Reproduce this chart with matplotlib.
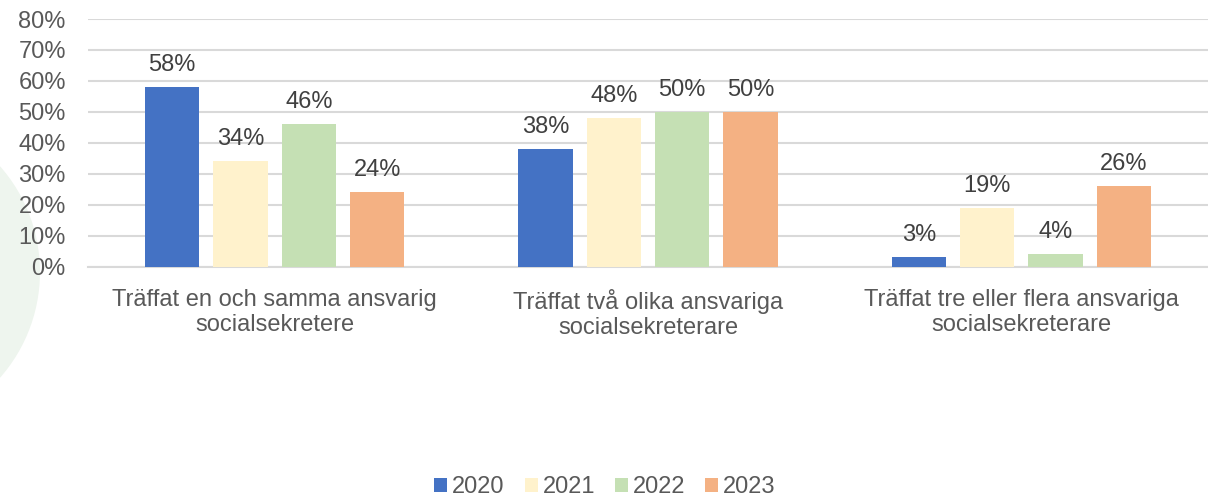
import matplotlib.pyplot as plt
import matplotlib.patches as mpatches
import numpy as np

plt.rcParams['font.family'] = ['Liberation Sans', 'DejaVu Sans']

categories = ["Träffat en och samma ansvarig\nsocialsekretere",
              "Träffat två olika ansvariga\nsocialsekreterare",
              "Träffat tre eller flera ansvariga\nsocialsekreterare"]
years = ["2020", "2021", "2022", "2023"]
v2020 = [58, 38, 3]
v2021 = [34, 48, 19]
v2022 = [46, 50, 4]
v2023 = [24, 50, 26]
series = [v2020, v2021, v2022, v2023]
colors = ["#4472C4", "#FFF2CC", "#C5E0B4", "#F4B183"]
fs = 17

fig = plt.figure(figsize=(12.08, 4.99), dpi=100)
# faint decorative circle in the background
bg = fig.add_axes([0, 0, 1, 1], zorder=0)
bg.set_xlim(0, 1208)
bg.set_ylim(499, 0)
bg.axis("off")
bg.add_patch(mpatches.Circle((-120, 272), 160, color="#EEF5EE", lw=0))

ax = fig.add_axes([88/1208, 1-266.5/499, 1120/1208, 247.5/499], zorder=1)
ax.patch.set_alpha(0)

x = np.arange(len(categories))
step = 0.183
width = 0.145
for i, (vals, col, yr) in enumerate(zip(series, colors, years)):
    pos = x + (i - 1.5) * step
    ax.bar(pos, vals, width, color=col, label=yr, zorder=3)
    for p, v in zip(pos, vals):
        ax.annotate(f"{v}%", (p, v), xytext=(0, 8), textcoords="offset points",
                    ha="center", va="bottom", fontsize=fs, color="#404040")

ax.set_xlim(-0.5, 2.5)
ax.set_ylim(0, 80)
ax.set_yticks(range(0, 81, 10))
ax.set_yticklabels([f"{t}%" for t in range(0, 81, 10)])
ax.yaxis.grid(True, color="#D9D9D9", lw=1.5, zorder=0)
ax.set_xticks(x)
ax.set_xticklabels(categories, linespacing=1.2)
ax.tick_params(axis="both", length=0, labelsize=fs, labelcolor="#595959")
ax.tick_params(axis="y", pad=16)
ax.tick_params(axis="x", pad=16)
for s in ["top", "right", "left"]:
    ax.spines[s].set_visible(False)
ax.spines["bottom"].set_color("#D9D9D9")
ax.spines["bottom"].set_linewidth(1.5)

leg = fig.legend(loc="center", bbox_to_anchor=(605/1208, 1-487/499), ncol=4,
                 frameon=False, fontsize=fs, handlelength=0.55, handleheight=0.55,
                 handletextpad=0.2, columnspacing=0.85)
for t in leg.get_texts():
    t.set_color("#595959")

fig.savefig("out.png", dpi=100)
